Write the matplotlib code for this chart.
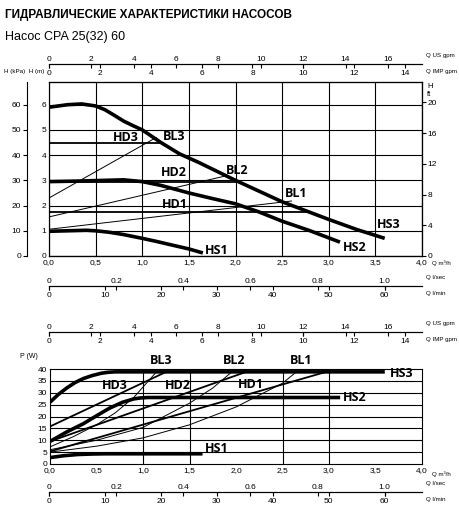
import matplotlib.pyplot as plt
import numpy as np

W, H = 459, 508

# --- данные (Q в м3/ч) ---
hs3_q = [0, 0.2, 0.35, 0.5, 0.6, 0.7, 0.8, 0.9, 1.0, 1.2, 1.4, 1.6, 2.0, 2.5, 3.0, 3.3, 3.6]
hs3_h = [5.9, 6.0, 6.03, 5.95, 5.8, 5.58, 5.35, 5.17, 5.0, 4.5, 4.05, 3.72, 3.0, 2.15, 1.45, 1.05, 0.7]
hs2_q = [0, 0.3, 0.8, 1.0, 1.2, 1.5, 1.75, 2.0, 2.25, 2.5, 2.8, 3.12]
hs2_h = [2.95, 2.97, 3.02, 2.95, 2.8, 2.5, 2.28, 2.07, 1.75, 1.38, 1.0, 0.55]
hs1_q = [0, 0.4, 0.5, 0.65, 0.8, 1.0, 1.15, 1.3, 1.5, 1.65]
hs1_h = [0.98, 1.02, 1.0, 0.94, 0.85, 0.7, 0.58, 0.45, 0.28, 0.12]
hd_q_end = [1.2, 2.0, 2.8]          # HD3, HD2, HD1
hd_h = [4.47, 2.95, 1.75]
bl_h_q = [[0, 1.15], [0, 1.9], [0, 2.6]]   # BL3, BL2, BL1
bl_h_h = [[2.3, 4.7], [1.55, 3.18], [1.06, 2.18]]

# мощность P (W)
p_hs3_q = [0, 0.09, 0.18, 0.27, 0.36, 0.45, 0.55, 0.62, 0.7, 3.6]
p_hs3 = [26, 29.3, 32, 34.3, 36, 37.2, 38.2, 38.6, 38.8, 38.8]
p_hs2_q = [0, 0.18, 0.36, 0.5, 0.64, 0.78, 0.9, 0.97, 1.05, 3.12]
p_hs2 = [9.5, 13.5, 17, 20.3, 23.5, 26, 27.4, 27.8, 28, 28]
p_hs1_q = [0, 0.15, 0.3, 0.45, 0.6, 1.64]
p_hs1 = [2.7, 3.5, 4.0, 4.2, 4.3, 4.3]
p_hd_q = [[0, 1.25], [0, 2.11], [0, 2.97]]
p_hd = [[15.8, 38.8], [9.5, 38.8], [5.3, 38.8]]
p_bl3_q = [0, 0.25, 0.5, 0.7, 0.9, 1.15]
p_bl3 = [7.2, 11.5, 16.5, 21.5, 28, 39]
p_bl2_q = [0, 0.5, 1.0, 1.5, 1.75, 1.95]
p_bl2 = [6, 10, 15.4, 25.6, 32, 38.6]
p_bl1_q = [0, 0.5, 1.0, 1.5, 2.0, 2.5, 2.65]
p_bl1 = [5, 7.5, 11, 16.5, 24, 34, 38.8]

US, IMP, LS, LM = 4.403, 3.666, 1 / 3.6, 1000 / 60
FONT = ['Liberation Sans', 'DejaVu Sans']


def ax_px(l, t, w, h):
    return fig.add_axes([l / W, 1 - (t + h) / H, w / W, h / H])


def fmt(v):
    return ('%.1f' % v).replace('.', ',')


def scale_line(y, k, ticks, name_top, name_bottom, labtop_fmt, labbot_fmt):
    for kk, tk, pos, fm in [(k[0], ticks[0], 'top', labtop_fmt), (k[1], ticks[1], 'bottom', labbot_fmt)]:
        a = ax_px(49, y, 373, 0.01)
        a.set_xlim(0, 4.0 * kk)
        a.set_yticks([])
        for s in ['left', 'right', 'top']:
            a.spines[s].set_visible(False)
        a.spines['bottom'].set_linewidth(0.8)
        a.set_xticks(tk)
        a.set_xticklabels([fm(t) for t in tk], fontsize=6)
        if pos == 'top':
            a.tick_params(axis='x', bottom=False, labelbottom=False, top=True, labeltop=True,
                          direction='in', length=3, pad=1)
        else:
            a.tick_params(axis='x', direction='out', length=3, pad=1)
        a.patch.set_alpha(0)
    fig.text(426 / W, 1 - (y - 8) / H, name_top, fontsize=4.4, va='center')
    fig.text(426 / W, 1 - (y + 8) / H, name_bottom, fontsize=4.4, va='center')


plt.rcParams['font.family'] = FONT
fig = plt.figure(figsize=(W / 100, H / 100), dpi=100)

fig.text(5 / W, 1 - 15 / H, 'ГИДРАВЛИЧЕСКИЕ ХАРАКТЕРИСТИКИ НАСОСОВ', fontsize=8.5,
         fontweight='bold', va='center')
fig.text(5 / W, 1 - 37 / H, 'Насос CPA 25(32) 60', fontsize=9, va='center')

lab = dict(fontsize=9, fontweight='bold', family=['Open Sans', 'DejaVu Sans'])
thick = dict(color='black', lw=2.6, solid_capstyle='butt')
thin = dict(color='black', lw=0.7)

# ---------- верхний график H(Q) ----------
ax = ax_px(49, 82, 373, 174)
ax.set_xlim(0, 4.0)
ax.set_ylim(0, 6.9)
ax.set_xticks(np.arange(0, 4.01, 0.5))
ax.set_xticklabels([fmt(v) for v in np.arange(0, 4.01, 0.5)], fontsize=6)
ax.set_yticks(range(0, 7))
ax.set_yticklabels([str(v) for v in range(0, 7)], fontsize=6)
ax.tick_params(length=0, pad=2)
ax.grid(True, color='black', lw=0.8)
for s in ax.spines.values():
    s.set_linewidth(0.8)

ax.plot(hs3_q, hs3_h, **thick)
ax.plot(hs2_q, hs2_h, **thick)
ax.plot(hs1_q, hs1_h, **thick)
for qe, h in zip(hd_q_end, hd_h):
    ax.plot([0, qe], [h, h], color='black', lw=1.3)
for q, h in zip(bl_h_q, bl_h_h):
    ax.plot(q, h, **thin)
for t, x, y in [('HD3', 0.68, 4.7), ('BL3', 1.22, 4.74), ('HD2', 1.2, 3.3), ('BL2', 1.9, 3.38),
                ('HD1', 1.21, 2.05), ('BL1', 2.53, 2.46), ('HS3', 3.52, 1.23),
                ('HS2', 3.15, 0.34), ('HS1', 1.67, 0.2)]:
    ax.text(x, y, t, va='center', **lab)

kpa = ax.twinx()
kpa.set_ylim(0, 69)
kpa.yaxis.set_ticks_position('left')
kpa.spines['left'].set_position(('outward', 16))
kpa.spines['left'].set_linewidth(0.8)
kpa.set_yticks(range(0, 61, 10))
kpa.set_yticklabels([str(v) for v in range(0, 61, 10)], fontsize=6)
kpa.tick_params(axis='y', length=3, pad=1)

ft = ax.twinx()
ft.set_ylim(0, 6.9 * 3.281)
ft.set_yticks(range(0, 21, 4))
ft.set_yticklabels([str(v) for v in range(0, 21, 4)], fontsize=6)
ft.tick_params(axis='y', length=3, pad=1)
fig.text(4 / W, 1 - 72 / H, 'H (kPa)  H (m)', fontsize=4.5, va='center')
fig.text(427 / W, 1 - 86 / H, 'H', fontsize=5.5, va='center')
fig.text(427 / W, 1 - 95 / H, 'ft', fontsize=5.5, va='center')
fig.text(432 / W, 1 - 263 / H, 'Q m³/h', fontsize=4.4, va='center')

scale_line(64, (US, IMP), (range(0, 17, 2), range(0, 15, 2)),
           'Q US gpm', 'Q IMP gpm', str, str)
scale_line(286, (LS, LM), ([0, 0.2, 0.4, 0.6, 0.8, 1.0], range(0, 61, 10)),
           'Q l/sec', 'Q l/min', lambda v: '0' if v == 0 else '%.1f' % v, str)

# ---------- нижний график P(Q) ----------
bx = ax_px(50, 369, 372, 95)
bx.set_xlim(0, 4.0)
bx.set_ylim(0, 40)
bx.set_xticks(np.arange(0, 4.01, 0.5))
bx.set_xticklabels([fmt(v) for v in np.arange(0, 4.01, 0.5)], fontsize=6)
bx.set_yticks(range(0, 41, 5))
bx.set_yticklabels([str(v) for v in range(0, 41, 5)], fontsize=6)
bx.tick_params(length=0, pad=2)
for v in range(5, 40, 5):
    bx.axhline(v, color='black', lw=0.8)
for v in [1.0, 1.5, 2.5, 3.0]:
    bx.axvline(v, color='black', lw=0.8)
for s in bx.spines.values():
    s.set_linewidth(0.8)

bx.plot(p_hs3_q, p_hs3, **thick)
bx.plot(p_hs2_q, p_hs2, **thick)
bx.plot(p_hs1_q, p_hs1, **thick)
for q, p in zip(p_hd_q, p_hd):
    bx.plot(q, p, color='black', lw=1.3)
bx.plot(p_bl3_q, p_bl3, **thin)
bx.plot(p_bl2_q, p_bl2, **thin)
bx.plot(p_bl1_q, p_bl1, **thin)
for t, x, y in [('BL3', 1.07, 43.5), ('BL2', 1.86, 43.5), ('BL1', 2.58, 43.5),
                ('HD3', 0.56, 33), ('HD2', 1.24, 33), ('HD1', 2.02, 33.3),
                ('HS3', 3.65, 37.9), ('HS2', 3.15, 28.1), ('HS1', 1.67, 6.7)]:
    bx.text(x, y, t, va='center', clip_on=False, **lab)
fig.text(20 / W, 1 - 357 / H, 'P (W)', fontsize=5, va='center')
fig.text(432 / W, 1 - 474 / H, 'Q m³/h', fontsize=4.4, va='center')

scale_line(332, (US, IMP), (range(0, 17, 2), range(0, 15, 2)),
           'Q US gpm', 'Q IMP gpm', str, str)
scale_line(492, (LS, LM), ([0, 0.2, 0.4, 0.6, 0.8, 1.0], range(0, 61, 10)),
           'Q l/sec', 'Q l/min', lambda v: '0' if v == 0 else '%.1f' % v, str)

fig.savefig('out.png', dpi=100)
